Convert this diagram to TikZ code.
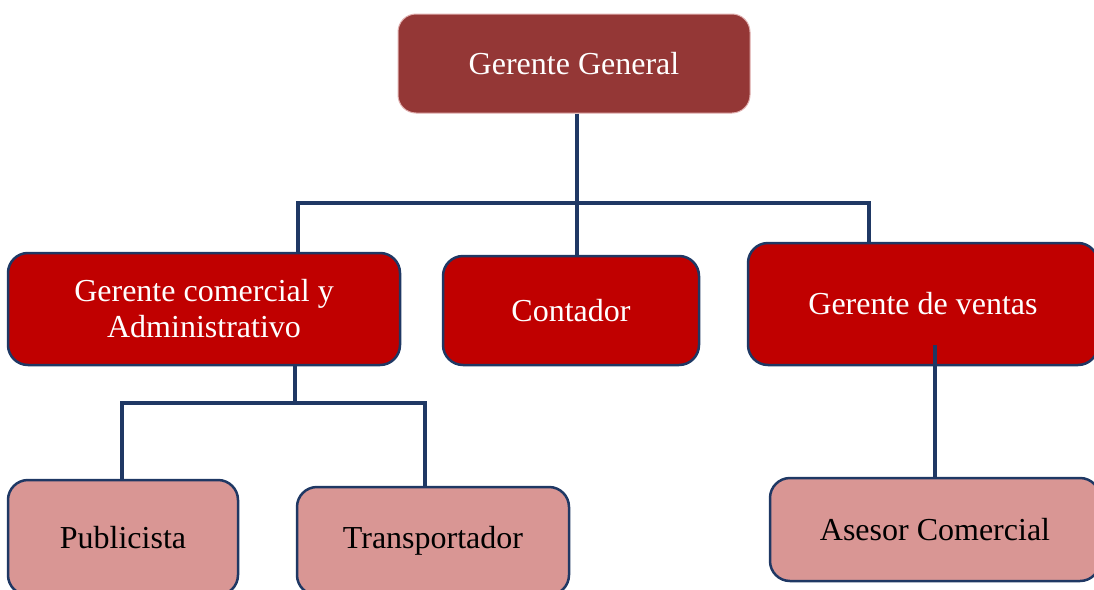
\documentclass[tikz,border=0pt]{standalone}
\usepackage{fontspec}
\setmainfont{Liberation Serif}
\definecolor{granate}{RGB}{148,55,54}
\definecolor{rojo}{RGB}{192,0,0}
\definecolor{rosa}{RGB}{217,150,148}
\definecolor{azul}{RGB}{31,56,100}
\definecolor{bordegg}{RGB}{224,175,175}
\begin{document}
\begin{tikzpicture}[x=1pt,y=-1pt,
  caja/.style={rectangle,rounded corners=20pt,draw=azul,line width=2.5pt,align=center,inner sep=0pt,font=\fontsize{32}{36}\selectfont},
  jefe/.style={caja,fill=granate,draw=bordegg,line width=1pt,text=white,rounded corners=18pt},
  area/.style={caja,fill=rojo,text=white},
  cargo/.style={caja,fill=rosa,text=black},
  linea/.style={draw=azul,line width=3.5pt}]
\path[use as bounding box] (0,0) rectangle (1094,589); \clip (0,0) rectangle (1094,589);
\node[jefe,minimum width=352,minimum height=99] (gg) at (574,63.5) {Gerente General};
\node[area,minimum width=392,minimum height=112] (gca) at (204,309) {Gerente comercial y\\Administrativo};
\node[area,minimum width=256,minimum height=109] (cont) at (571,310.5) {Contador};
\node[area,minimum width=350,minimum height=122] (gv) at (923,304) {Gerente de ventas};
\node[cargo,minimum width=230,minimum height=115] (pub) at (123,537.5) {Publicista};
\node[cargo,minimum width=272,minimum height=108] (trans) at (433,541) {Transportador};
\node[cargo,minimum width=330,minimum height=103] (ase) at (935,529.5) {Asesor Comercial};
\coordinate (bus) at (577,203); \coordinate (la) at (298,203); \coordinate (lb) at (869,203);
\coordinate (mc) at (295,403); \coordinate (ma) at (122,403); \coordinate (mb) at (425,403);
\coordinate (gvin) at (935,345);
\draw[linea] (gg.south -| bus) -- (bus |- cont.north); \draw[linea] (gca.north -| la) |- (lb) -- (lb |- gv.north);
\draw[linea] (gca.south -| mc) -- (mc); \draw[linea] (pub.north -| ma) |- (mb) -- (mb |- trans.north);
\draw[linea] (gvin) -- (ase.north);
\end{tikzpicture}
\end{document}
